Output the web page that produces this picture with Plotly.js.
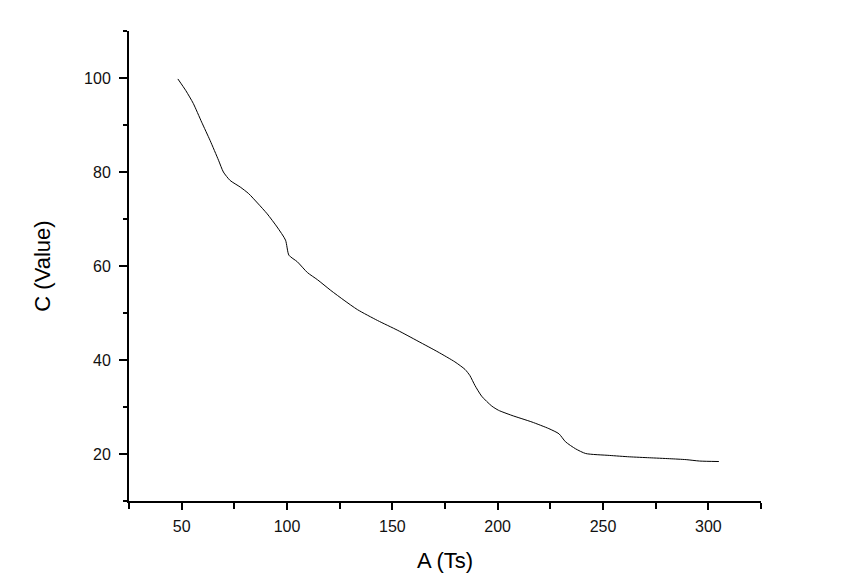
<!DOCTYPE html>
<html>
<head>
<meta charset="utf-8">
<script src="https://cdn.plot.ly/plotly-3.0.1.min.js"></script>
<style>html,body{margin:0;padding:0;background:#fff;}#chart{width:855px;height:580px;}</style>
</head>
<body>
<div id="chart"></div>
<script>
const xValues = [48.2, 52, 55.5, 59.5, 63.5, 67.5, 69.8, 73, 77.8, 81.8, 86, 90.6, 95.3, 99.3, 100.9, 104.9, 109.7, 114.4, 120.8, 127.1, 133.5, 143, 152.6, 162.2, 171.7, 179.7, 184.5, 186.8, 189.2, 192.4, 197.2, 200.4, 206.8, 216.3, 224.3, 229.1, 232.2, 237, 241.8, 253, 262.5, 272, 281.6, 289.5, 295.9, 305];
const cValues = [99.8, 97.3, 94.6, 90.6, 86.7, 82.5, 80, 78.2, 76.8, 75.4, 73.4, 71.1, 68.3, 65.5, 62.3, 60.9, 58.6, 57.1, 54.8, 52.7, 50.7, 48.4, 46.3, 44, 41.7, 39.6, 38, 36.7, 34.6, 32.3, 30.2, 29.3, 28.2, 26.8, 25.4, 24.3, 22.6, 21.1, 20.1, 19.7, 19.4, 19.2, 19, 18.8, 18.5, 18.4];
const xTitle = "A (Ts)";
const yTitle = "C (Value)";

const font = "Liberation Sans, Arial, sans-serif";
Plotly.newPlot("chart", [{
  x: xValues, y: cValues, type: "scatter", mode: "lines",
  line: {color: "#000", width: 1, shape: "spline", smoothing: 0.6}
}], {
  width: 855, height: 580,
  margin: {l: 129, r: 94, t: 31, b: 79},
  paper_bgcolor: "#fff", plot_bgcolor: "#fff",
  showlegend: false,
  font: {family: font, size: 16, color: "#000"},
  xaxis: {
    range: [25, 325], tick0: 0, dtick: 50,
    showline: true, linewidth: 2, linecolor: "#000",
    ticks: "outside", ticklen: 7, tickwidth: 2, tickcolor: "#000",
    minor: {dtick: 25, ticks: "outside", ticklen: 6, tickwidth: 2, tickcolor: "#000"},
    showgrid: false, zeroline: false,
    ticklabelstandoff: 3,
    tickfont: {family: font, size: 16, color: "#111"},
    title: {text: xTitle, font: {family: font, size: 22, color: "#000"}, standoff: 18}
  },
  yaxis: {
    range: [10, 110], tick0: 0, dtick: 20,
    showline: true, linewidth: 2, linecolor: "#000",
    ticks: "outside", ticklen: 8, tickwidth: 2, tickcolor: "#000",
    minor: {dtick: 10, ticks: "outside", ticklen: 4, tickwidth: 2, tickcolor: "#000"},
    showgrid: false, zeroline: false,
    ticklabelstandoff: 5,
    tickfont: {family: font, size: 16, color: "#111"},
    title: {text: yTitle, font: {family: font, size: 22, color: "#000"}, standoff: 27}
  }
}, {displayModeBar: false, staticPlot: true});
</script>
</body>
</html>
